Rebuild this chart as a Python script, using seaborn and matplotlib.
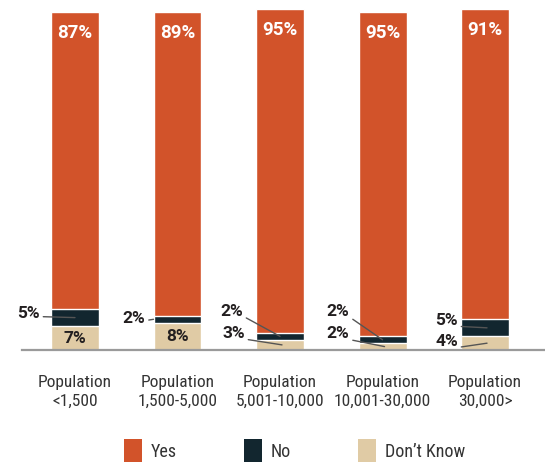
import matplotlib
matplotlib.use("Agg")
import matplotlib.pyplot as plt
import pandas as pd
import seaborn as sns
from matplotlib.patches import Patch

# Survey answers by community size (percent of respondents)
categories = [
    "Population\n<1,500",
    "Population\n1,500-5,000",
    "Population\n5,001-10,000",
    "Population\n10,001-30,000",
    "Population\n30,000>",
]
yes = [87, 89, 95, 95, 91]
no = [5, 2, 2, 2, 5]
dont_know = [7, 8, 3, 2, 4]
series_names = ["Yes", "No", "Don\u2019t Know"]

ORANGE = "#D2532A"
NAVY = "#12262F"
TAN = "#E0CBA5"
TEXT = "#231F20"
AXIS_GRAY = "#9A9A9A"

sns.set_style("white")
FONT = ["Roboto Condensed", "DejaVu Sans Condensed", "Liberation Sans Narrow", "Roboto"]
plt.rcParams["font.family"] = FONT
plt.rcParams["font.stretch"] = "condensed"
VALUE_FONT = dict(family=["Roboto", "DejaVu Sans"], fontstretch="normal",
                  fontweight="bold")

df = pd.DataFrame({"category": categories, "Yes": yes, "No": no, "DK": dont_know})
df["top_dk"] = df["DK"]
df["top_no"] = df["DK"] + df["No"]
df["top_yes"] = df["top_no"] + df["Yes"]

fig = plt.figure(figsize=(5.45, 4.62), dpi=100)
ax = fig.add_axes([22 / 545, 112 / 462, 523 / 545, 341 / 462])

# Stack by overdrawing cumulative heights, tallest first
for col, color in [("top_yes", ORANGE), ("top_no", NAVY), ("top_dk", TAN)]:
    sns.barplot(data=df, x="category", y=col, color=color, width=0.468,
                saturation=1, errorbar=None, ax=ax, zorder=2)

ax.set_xlim(-0.517, 4.585)
ax.set_ylim(0, 100)
ax.set_xlabel("")
ax.set_ylabel("")
ax.set_yticks([])
for side in ["left", "right", "top"]:
    ax.spines[side].set_visible(False)
ax.spines["bottom"].set_color(AXIS_GRAY)
ax.spines["bottom"].set_linewidth(1.6)

ax.set_xticks(range(len(categories)))
ax.set_xticklabels(categories, fontsize=12.5, color="#333333", linespacing=1.32)
ax.tick_params(axis="x", which="major", length=0, pad=18)
separators = [-0.512, 0.498, 1.512, 2.527, 3.541, 4.556]
ax.set_xticks(separators, minor=True)
ax.tick_params(axis="x", which="minor", length=7.5, width=1.6,
               color=AXIS_GRAY, direction="out")

# "Yes" share printed at the top of each bar
for i, (top, v) in enumerate(zip(df["top_yes"], yes)):
    ax.annotate(f"{v}%", xy=(i, top), xytext=(0, -21), textcoords="offset pixels",
                ha="center", va="center", color="white", fontsize=13.5,
                zorder=5, **VALUE_FONT)

# Large "Don't Know" shares fit inside the bar
for i, v in enumerate(dont_know):
    if v >= 6:
        ax.annotate(f"{v}%", xy=(i, v / 2), ha="center", va="center",
                    color=TEXT, fontsize=12.5, zorder=5, **VALUE_FONT)

# Small segments get a label to the left with a leader line
px = 102.5  # pixels per category step
callouts = [
    # bar, series, end x shift (px), text offset (px), line start on text
    (0, "No", 0, (-35, 4), (1, 0.3)),
    (1, "No", -24, (-8, 1), (1, 0.35)),
    (2, "No", 0, (-37, 25), (1, 0.18)),
    (2, "DK", 2, (-37, 11), (1, 0.15)),
    (3, "No", 0, (-33, 28), (1, 0.15)),
    (3, "DK", 2, (-35, 13), (1, 0.1)),
    (4, "No", 2, (-29, 7), (0.8, 0.15)),
    (4, "DK", 2, (-29, 2), (0.85, 0.05)),
]
for i, series, shift, offset, rel in callouts:
    if series == "No":
        value = no[i]
        mid = dont_know[i] + no[i] / 2
    else:
        value = dont_know[i]
        mid = dont_know[i] / 2
    ax.annotate(f"{value}%", xy=(i + shift / px, mid), xytext=offset,
                textcoords="offset pixels", ha="right", va="center",
                color=TEXT, fontsize=12.5, zorder=5, annotation_clip=False,
                arrowprops=dict(arrowstyle="-", color="#555555", lw=1.0,
                                shrinkA=0, shrinkB=0, relpos=rel),
                **VALUE_FONT)

handles = [Patch(facecolor=c, edgecolor="none") for c in (ORANGE, NAVY, TAN)]
fig.legend(handles, series_names, loc="lower left",
           bbox_to_anchor=(124 / 545, 0),
           ncol=3, frameon=False, fontsize=13, labelcolor="#333333",
           handlelength=1.0, handleheight=1.55, handletextpad=0.5,
           columnspacing=3.7, borderpad=0, borderaxespad=0)

fig.savefig("out.png", dpi=100)
